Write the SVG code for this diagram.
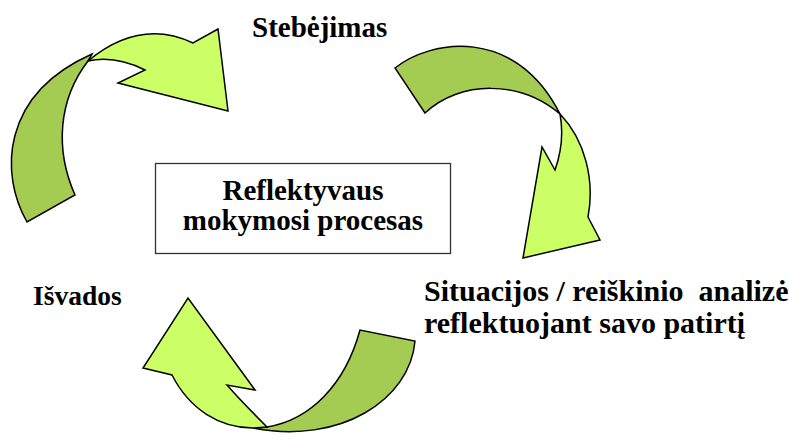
<svg xmlns="http://www.w3.org/2000/svg" width="789" height="435" viewBox="0 0 789 435">
<style>
.lt{fill:#CCFF66;stroke:#000;stroke-width:1.5;stroke-linejoin:miter}
.dk{fill:#A5CC52;stroke:#000;stroke-width:1.5;stroke-linejoin:miter}
.t{font-family:"Liberation Serif","Times New Roman",serif;font-weight:bold;font-size:29px;fill:#000;white-space:pre}
</style>
<rect width="789" height="435" fill="#fff"/>
<g id="connectors">
<g id="arrow-left">
<path class="dk" d="M27,222 C0,175 0,95 92,54 L88,61 C58,100 55,150 75,195 Z"/>
<path class="lt" d="M88,61 Q140,18 193,43 L218,29 L228,111 L118,83 L145,70 Q115,55 88,61 Z"/>
</g>
<g id="arrow-right">
<path class="dk" d="M395,68 C430,40 515,25 560,114 C520,80 460,80 425,113 Z"/>
<path class="lt" d="M560,114 C585,140 595,180 588,217 L600,240 L523,258 L542,147 L555,170 C562,150 563,130 560,114 Z"/>
</g>
<g id="arrow-bottom">
<path class="dk" d="M267,427 C310,420 345,385 360,330 L415,341 C410,400 340,445 253,428 Z"/>
<path class="lt" d="M172,375 C190,410 220,428 253,428 L267,427 C255,415 240,400 227,385 L255,390 L188,298 L143,368 Z"/>
</g>
</g>
<g id="center">
<rect x="155.5" y="163.5" width="295" height="90" fill="#fff" stroke="#333" stroke-width="1.3"/>
<text class="t" x="303" y="200" text-anchor="middle">Reflektyvaus</text>
<text class="t" x="303" y="230" text-anchor="middle">mokymosi procesas</text>
</g>
<g id="observe">
<text class="t" x="252" y="37">Stebėjimas</text>
</g>
<g id="conclusions">
<text class="t" x="33" y="305" style="font-size:27.5px">Išvados</text>
</g>
<g id="analysis">
<text class="t" x="424" y="301" style="font-size:30px">Situacijos / reiškinio  analizė</text>
<text class="t" x="424" y="333" style="font-size:30px">reflektuojant savo patirtį</text>
</g>
</svg>
